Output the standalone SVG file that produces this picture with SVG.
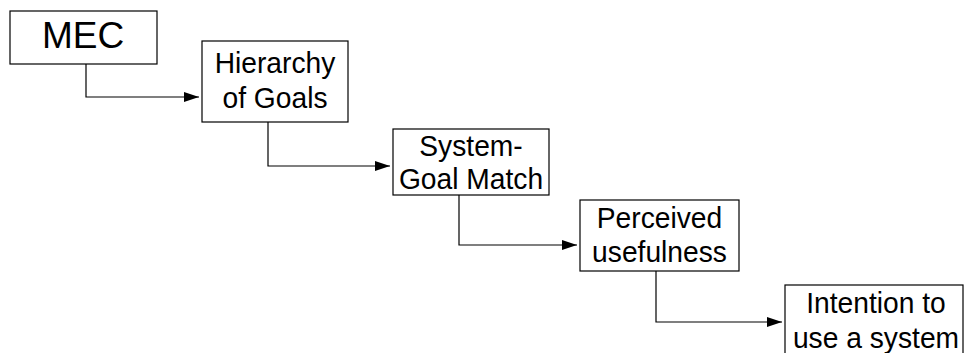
<svg xmlns="http://www.w3.org/2000/svg" width="965" height="353" viewBox="0 0 965 353">
  <style>
    .box { fill: #ffffff; stroke: #000000; stroke-width: 1.2; }
    .lbl { font-family: "Liberation Sans", Arial, sans-serif; font-size: 30px; fill: #000000; text-anchor: middle; }
    .big { font-size: 37px; }
    .wire { fill: none; stroke: #000000; stroke-width: 1.2; marker-end: url(#arrow); }
  </style>
  <defs>
    <marker id="arrow" viewBox="0 0 15 10" refX="15" refY="5" markerWidth="15" markerHeight="10" markerUnits="userSpaceOnUse" orient="auto">
      <path d="M0,0 L15,5 L0,10 Z" fill="#000000"/>
    </marker>
  </defs>
  <rect width="965" height="353" fill="#ffffff"/>

  <g id="connectors">
    <path class="wire" d="M86,64 V97 H199"/>
    <path class="wire" d="M268,122 V166 H390"/>
    <path class="wire" d="M459,195 V245 H577"/>
    <path class="wire" d="M656,271 V322 H782"/>
  </g>

  <g id="mec">
    <rect class="box" x="10" y="11" width="147" height="53"/>
    <text class="lbl big" x="83" y="48">MEC</text>
  </g>

  <g id="hierarchy-of-goals">
    <rect class="box" x="202" y="41" width="146" height="81"/>
    <text class="lbl" transform="translate(275 73) scale(0.94 1)">Hierarchy</text>
    <text class="lbl" transform="translate(275 108) scale(0.94 1)">of Goals</text>
  </g>

  <g id="system-goal-match">
    <rect class="box" x="393" y="129" width="156" height="66"/>
    <text class="lbl" transform="translate(471 156) scale(0.94 1)">System-</text>
    <text class="lbl" transform="translate(471 189) scale(0.94 1)">Goal Match</text>
  </g>

  <g id="perceived-usefulness">
    <rect class="box" x="580" y="200" width="159" height="71"/>
    <text class="lbl" transform="translate(659.5 228) scale(0.94 1)">Perceived</text>
    <text class="lbl" transform="translate(659.5 262) scale(0.94 1)">usefulness</text>
  </g>

  <g id="intention-to-use">
    <rect class="box" x="785" y="285" width="178" height="80"/>
    <text class="lbl" transform="translate(876 313) scale(0.94 1)">Intention to</text>
    <text class="lbl" transform="translate(876 348) scale(0.94 1)">use a system</text>
  </g>
</svg>
